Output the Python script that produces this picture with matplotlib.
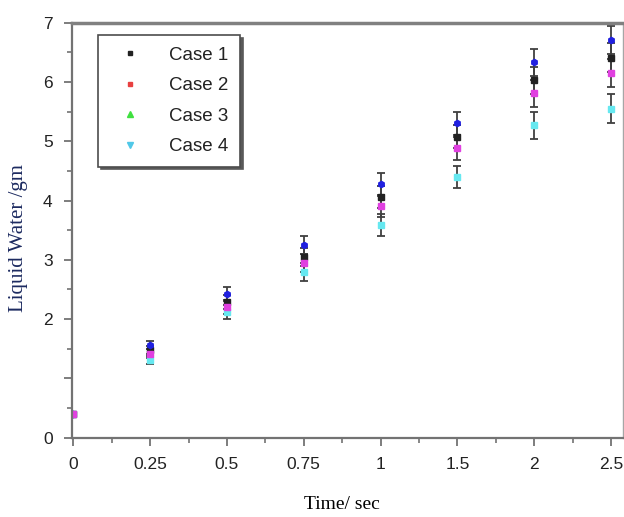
#!/usr/bin/env python3
"""
Liquid water vs time for four cases, with error bars
"""

import matplotlib
matplotlib.use('Agg')
import matplotlib.pyplot as plt
from matplotlib.lines import Line2D
from matplotlib.ticker import MultipleLocator, FixedLocator

# data
time_labels = ['0', '0.25', '0.5', '0.75', '1', '1.5', '2', '2.5']
case1 = [0.40, 1.48, 2.29, 3.05, 4.06, 5.08, 6.03, 6.41]
case2 = [0.40, 1.42, 2.21, 2.95, 3.90, 4.88, 5.81, 6.15]
case3 = [0.40, 1.56, 2.43, 3.25, 4.28, 5.30, 6.33, 6.71]
case4 = [0.40, 1.31, 2.12, 2.80, 3.59, 4.40, 5.27, 5.55]
errors = [0.02, 0.07, 0.12, 0.15, 0.18, 0.19, 0.23, 0.24]
case_names = ['Case 1', 'Case 2', 'Case 3', 'Case 4']
ytick_vals = [0, 1, 2, 3, 4, 5, 6, 7]
ytick_labels = ['0', '', '2', '3', '4', '5', '6', '7']

fig = plt.figure(figsize=(6.24, 5.17), dpi=100)
ax = fig.add_axes([0.1154, 0.1534, 0.8830, 0.8027])

idx = list(range(len(time_labels)))

# (values, marker colour, marker) -- order chosen so case 2 sits on top at t=0
series = [
    (case4, '#66e8f0', 's'),
    (case1, '#222222', 's'),
    (case3, '#2020e0', 'h'),
    (case2, '#e040e0', 's'),
]
for vals, col, mk in series:
    ax.errorbar(idx, vals, yerr=errors, fmt=mk, color=col, ms=4.5, mec=col,
                ecolor='0.25', elinewidth=1.3, capsize=3, capthick=1.3)

ax.set_xlim(-0.017, 7.157)
ax.set_ylim(0, 7)

ax.xaxis.set_major_locator(FixedLocator(idx))
ax.set_xticklabels(time_labels)
ax.xaxis.set_minor_locator(FixedLocator([i + 0.5 for i in idx[:-1]]))
ax.set_yticks(ytick_vals)
ax.set_yticklabels(ytick_labels)
ax.yaxis.set_minor_locator(MultipleLocator(0.5))

ax.tick_params(axis='both', which='major', direction='out', length=6, width=1.3,
               color='0.45', labelsize=12.5, labelcolor='#222222', pad=8)
ax.tick_params(axis='both', which='minor', direction='out', length=3.5, width=1.2,
               color='0.45')
for lab in ax.get_xticklabels() + ax.get_yticklabels():
    lab.set_fontfamily('Liberation Sans')

ax.spines['top'].set_linewidth(2.5)
ax.spines['top'].set_color('0.5')
ax.spines['left'].set_linewidth(1.6)
ax.spines['left'].set_color('0.45')
ax.spines['bottom'].set_linewidth(1.6)
ax.spines['bottom'].set_color('0.45')
ax.spines['right'].set_linewidth(1.0)
ax.spines['right'].set_color('0.65')

ax.set_xlabel('Time/ sec', fontfamily='Liberation Serif', fontsize=14)
ax.xaxis.set_label_coords(0.49, -0.14)
ax.set_ylabel('Liquid Water /gm', fontfamily='Liberation Serif', fontsize=15,
              color='#1c2a60')
ax.yaxis.set_label_coords(-0.08, 0.48)

# legend handles as drawn in the original key
handles = [
    Line2D([], [], ls='none', marker='s', ms=3, color='#222222'),
    Line2D([], [], ls='none', marker='s', ms=3, color='#e84040'),
    Line2D([], [], ls='none', marker='^', ms=4.5, color='#40e040'),
    Line2D([], [], ls='none', marker='v', ms=4.5, color='#50c8e8'),
]
leg = ax.legend(handles, case_names, loc='upper left', bbox_to_anchor=(0.047, 0.97),
                borderaxespad=0, frameon=True, fancybox=False,
                shadow={'color': '0.35', 'alpha': 1},
                prop={'family': 'Liberation Sans', 'size': 13.5},
                handlelength=2.2, handletextpad=1.0, labelspacing=0.72,
                borderpad=0.6)
leg.get_frame().set_edgecolor('0.3')
leg.get_frame().set_linewidth(1.2)
for t in leg.get_texts():
    t.set_color('#222222')

plt.savefig('out.png', dpi=100)
